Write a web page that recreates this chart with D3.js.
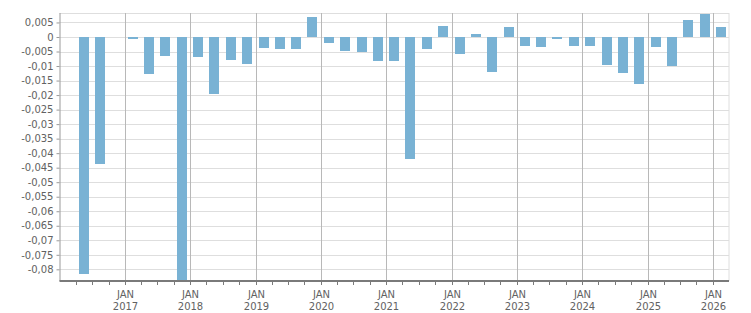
<!DOCTYPE html>
<html>
<head>
<meta charset="utf-8">
<script src="https://cdn.jsdelivr.net/npm/d3@7"></script>
<style>
  body { margin: 0; background: #fff; }
  text { font-family: "DejaVu Sans", sans-serif; font-size: 10px; fill: #626262; }
</style>
</head>
<body>
<div id="chart"></div>
<script>
// quarterly values, Q1 2016 .. Q1 2026 (null = no bar)
const years = [2016, 2017, 2018, 2019, 2020, 2021, 2022, 2023, 2024, 2025, 2026];
const values = [
  null, -0.0815, -0.0436, null,
  -0.0007, -0.0126, -0.0064, -0.0850,
  -0.0068, -0.0195, -0.0078, -0.0092,
  -0.0037, -0.0040, -0.0040, 0.0069,
  -0.0020, -0.0047, -0.0051, -0.0082,
  -0.0082, -0.0419, -0.0040, 0.0038,
  -0.0057, 0.0010, -0.0119, 0.0034,
  -0.0030, -0.0033, -0.0006, -0.0030,
  -0.0030, -0.0095, -0.0123, -0.0161,
  -0.0033, -0.0099, 0.0059, 0.0079,
  0.0034
];
const yTicks = d3.range(0.005, -0.0801, -0.005);
const yearTicks = d3.range(2017, 2027);

const width = 751, height = 313;
const margin = { top: 13, right: 22, bottom: 32, left: 59.5 };

const data = values.map((v, i) => {
  const y = years[0] + Math.floor(i / 4), q = i % 4;
  const start = new Date(y, q * 3, 1), end = new Date(y, q * 3 + 3, 1);
  return { start, end, mid: new Date((+start + +end) / 2), value: v };
}).filter(d => d.value !== null);

const svg = d3.select("#chart").append("svg")
  .attr("width", width).attr("height", height);

const x = d3.scaleTime()
  .domain([new Date(2016, 0, 1), new Date(2026, 3, 1)])
  .range([margin.left, width - margin.right]);
const y = d3.scaleLinear()
  .domain([-0.08402, 0.00826])
  .range([height - margin.bottom, margin.top]);

const fmt = v => Math.abs(v) < 1e-9 ? "0" : d3.format(".3~f")(v).replace(".", ",").replace("−", "-");

// horizontal grid
svg.append("g")
  .selectAll("line")
  .data(yTicks.concat([y.domain()[1]]))
  .join("line")
  .attr("x1", margin.left).attr("x2", width - margin.right)
  .attr("y1", d => Math.round(y(d)) + 0.5).attr("y2", d => Math.round(y(d)) + 0.5)
  .attr("stroke", "#dedede");

// right border
svg.append("line")
  .attr("x1", width - margin.right).attr("x2", width - margin.right)
  .attr("y1", margin.top).attr("y2", height - margin.bottom)
  .attr("stroke", "#dedede");

// year grid
svg.append("g")
  .selectAll("line")
  .data(yearTicks)
  .join("line")
  .attr("x1", d => Math.round(x(new Date(d, 0, 1))) + 0.5)
  .attr("x2", d => Math.round(x(new Date(d, 0, 1))) + 0.5)
  .attr("y1", margin.top).attr("y2", height - margin.bottom)
  .attr("stroke", "#b8b8b8");

// bars
svg.append("clipPath").attr("id", "clip")
  .append("rect")
  .attr("x", margin.left).attr("y", margin.top)
  .attr("width", width - margin.left - margin.right)
  .attr("height", height - margin.top - margin.bottom);

svg.append("g")
  .attr("clip-path", "url(#clip)")
  .selectAll("rect")
  .data(data)
  .join("rect")
  .attr("x", d => Math.round(x(d.mid) - (x(d.end) - x(d.start)) * 0.31))
  .attr("width", d => Math.round((x(d.end) - x(d.start)) * 0.62))
  .attr("y", d => Math.round(y(Math.max(0, d.value))))
  .attr("height", d => Math.round(Math.abs(y(d.value) - y(0))))
  .attr("fill", "#79b2d4");

// y axis
const yAxis = svg.append("g")
  .attr("transform", `translate(${margin.left},0)`)
  .call(d3.axisLeft(y).tickValues(yTicks).tickSize(3).tickPadding(3).tickFormat(fmt))
  .attr("font-size", null).attr("font-family", null);
yAxis.select(".domain").attr("stroke", "#9a9a9a").attr("d", `M0.5,${margin.top}V${height - margin.bottom}`);
yAxis.selectAll(".tick line").attr("stroke", "#9a9a9a");
yAxis.selectAll("text").attr("fill", "#626262");

// x axis
const xAxis = svg.append("g")
  .attr("transform", `translate(0,${height - margin.bottom})`);
xAxis.append("line")
  .attr("x1", margin.left).attr("x2", width - margin.right)
  .attr("y1", 0).attr("y2", 0)
  .attr("stroke", "#7a7a7a").attr("stroke-width", 2);
xAxis.selectAll(".minor")
  .data(d3.timeMonth.every(3).range(new Date(2016, 3, 1), new Date(2026, 3, 1)))
  .join("line")
  .attr("x1", d => Math.round(x(d)) + 0.5).attr("x2", d => Math.round(x(d)) + 0.5)
  .attr("y1", 1).attr("y2", 4)
  .attr("stroke", "#7a7a7a");
const lab = xAxis.selectAll(".lab")
  .data(yearTicks)
  .join("text")
  .attr("text-anchor", "middle")
  .attr("x", d => Math.round(x(new Date(d, 0, 1))) + 0.5);
lab.append("tspan").attr("y", 17).text("JAN");
lab.append("tspan").attr("x", d => Math.round(x(new Date(d, 0, 1))) + 0.5).attr("y", 29).text(d => d);
</script>
</body>
</html>
